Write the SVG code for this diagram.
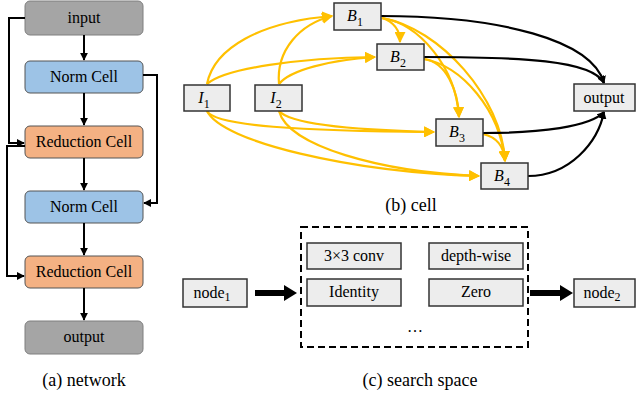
<svg xmlns="http://www.w3.org/2000/svg" width="636" height="393" viewBox="0 0 636 393">
<defs>
<marker id="ab" viewBox="0 0 10 10" refX="9" refY="5" markerWidth="4" markerHeight="4" orient="auto"><path d="M0,0 L10,5 L0,10 z" fill="#000"/></marker>
<marker id="ay" viewBox="0 0 10 10" refX="9" refY="5" markerWidth="5" markerHeight="5" orient="auto"><path d="M0,0 L10,5 L0,10 z" fill="#FFC000"/></marker>
<marker id="ak" viewBox="0 0 10 10" refX="9" refY="5" markerWidth="3.5" markerHeight="3.5" orient="auto"><path d="M0,0 L10,5 L0,10 z" fill="#000"/></marker>
</defs>
<style>
.lbl{font-size:16px;text-anchor:middle;fill:#000}
.cap{font-size:18px;text-anchor:middle;fill:#000}
.m{font-style:italic}
.gray{fill:#A5A5A5;stroke:#7F7F7F;stroke-width:1}
.blue{fill:#9DC3E6;stroke:#555;stroke-width:1}
.orng{fill:#F4B183;stroke:#555;stroke-width:1}
.cell{fill:#EDEDED;stroke:#333;stroke-width:1.5}
.bl{fill:none;stroke:#000;stroke-width:2}
.yl{fill:none;stroke:#FFC000;stroke-width:2.2;marker-end:url(#ay)}
.kl{fill:none;stroke:#000;stroke-width:2.2;marker-end:url(#ak)}
</style>

<!-- (a) network -->
<g id="net-input"><rect class="gray" x="25" y="1" width="118" height="34" rx="5"/><text class="lbl" font-family="Liberation Serif, DejaVu Serif, Times New Roman, serif" x="84" y="23">input</text></g>
<g id="net-norm1"><rect class="blue" x="25" y="61" width="118" height="32" rx="5"/><text class="lbl" font-family="Liberation Serif, DejaVu Serif, Times New Roman, serif" x="84" y="82">Norm Cell</text></g>
<g id="net-red1"><rect class="orng" x="25" y="126" width="118" height="32" rx="5"/><text class="lbl" font-family="Liberation Serif, DejaVu Serif, Times New Roman, serif" x="84" y="147">Reduction Cell</text></g>
<g id="net-norm2"><rect class="blue" x="25" y="191" width="118" height="32" rx="5"/><text class="lbl" font-family="Liberation Serif, DejaVu Serif, Times New Roman, serif" x="84" y="212">Norm Cell</text></g>
<g id="net-red2"><rect class="orng" x="25" y="256" width="118" height="32" rx="5"/><text class="lbl" font-family="Liberation Serif, DejaVu Serif, Times New Roman, serif" x="84" y="277">Reduction Cell</text></g>
<g id="net-output"><rect class="gray" x="25" y="321" width="118" height="33" rx="5"/><text class="lbl" font-family="Liberation Serif, DejaVu Serif, Times New Roman, serif" x="84" y="342">output</text></g>
<text class="cap" font-family="Liberation Serif, DejaVu Serif, Times New Roman, serif" x="84" y="386">(a) network</text>

<g id="net-connectors">
<path class="bl" d="M84,35 V60" marker-end="url(#ab)"/>
<path class="bl" d="M84,93 V125" marker-end="url(#ab)"/>
<path class="bl" d="M84,158 V190" marker-end="url(#ab)"/>
<path class="bl" d="M84,223 V255" marker-end="url(#ab)"/>
<path class="bl" d="M84,288 V320" marker-end="url(#ab)"/>
<path class="bl" d="M25,18 H9 V143 H24" marker-end="url(#ab)"/>
<path class="bl" d="M25,146 H7 V276 H24" marker-end="url(#ab)"/>
<path class="bl" d="M143,75 H157 V203 H144" marker-end="url(#ab)"/>
</g>

<!-- (b) cell -->
<g id="connectors-cell">
<path class="yl" d="M207,84 C214,48 260,22 332,16"/>
<path class="yl" d="M207,84 C225,68 300,58 375,57"/>
<path class="yl" d="M279,84 C276,50 300,24 332,16"/>
<path class="yl" d="M279,84 C290,70 330,60 375,57"/>
<path class="yl" d="M207,111 C215,126 300,131 434,132"/>
<path class="yl" d="M207,111 C222,142 350,172 479,176"/>
<path class="yl" d="M279,111 C290,124 350,130 434,132"/>
<path class="yl" d="M279,111 C288,146 380,172 479,176"/>
<path class="yl" d="M382,18 C394,22 400,30 400,42"/>
<path class="yl" d="M382,18 C420,24 456,68 459,117"/>
<path class="yl" d="M382,18 C440,28 502,98 505,161"/>
<path class="yl" d="M424,59 C446,62 458,90 459,117"/>
<path class="yl" d="M424,59 C462,66 500,110 505,161"/>
<path class="yl" d="M483,134 C496,137 504,146 505,161"/>
<path class="kl" d="M381,16 C500,16 592,40 604,83"/>
<path class="kl" d="M424,57 C520,57 592,60 604,83"/>
<path class="kl" d="M483,133 C540,133 590,127 604,112"/>
<path class="kl" d="M528,176 C570,176 598,142 604,112"/>
</g>
<g id="cell-I1"><rect class="cell" x="184" y="85" width="46" height="26"/><text class="lbl m" font-family="Liberation Serif, DejaVu Serif, Times New Roman, serif" x="204" y="103">I<tspan font-size="12" dy="5" font-style="normal">1</tspan></text></g>
<g id="cell-I2"><rect class="cell" x="255" y="85" width="47" height="26"/><text class="lbl m" font-family="Liberation Serif, DejaVu Serif, Times New Roman, serif" x="276" y="103">I<tspan font-size="12" dy="5" font-style="normal">2</tspan></text></g>
<g id="cell-B1"><rect class="cell" x="334" y="3" width="47" height="27"/><text class="lbl m" font-family="Liberation Serif, DejaVu Serif, Times New Roman, serif" x="355" y="21">B<tspan font-size="12" dy="5" font-style="normal">1</tspan></text></g>
<g id="cell-B2"><rect class="cell" x="377" y="44" width="47" height="26"/><text class="lbl m" font-family="Liberation Serif, DejaVu Serif, Times New Roman, serif" x="398" y="62">B<tspan font-size="12" dy="5" font-style="normal">2</tspan></text></g>
<g id="cell-B3"><rect class="cell" x="436" y="119" width="47" height="27"/><text class="lbl m" font-family="Liberation Serif, DejaVu Serif, Times New Roman, serif" x="457" y="137">B<tspan font-size="12" dy="5" font-style="normal">3</tspan></text></g>
<g id="cell-B4"><rect class="cell" x="481" y="163" width="47" height="26"/><text class="lbl m" font-family="Liberation Serif, DejaVu Serif, Times New Roman, serif" x="502" y="181">B<tspan font-size="12" dy="5" font-style="normal">4</tspan></text></g>
<g id="cell-output"><rect class="cell" x="574" y="84" width="61" height="27"/><text class="lbl" font-family="Liberation Serif, DejaVu Serif, Times New Roman, serif" x="604" y="103">output</text></g>
<text class="cap" font-family="Liberation Serif, DejaVu Serif, Times New Roman, serif" x="411" y="211">(b) cell</text>

<!-- (c) search space -->
<g id="ss-box"><rect x="301" y="227" width="227" height="120" fill="none" stroke="#000" stroke-width="2" stroke-dasharray="7,4"/></g>
<g id="ss-conv"><rect class="cell" x="307" y="243" width="94" height="26"/><text class="lbl" font-family="Liberation Serif, DejaVu Serif, Times New Roman, serif" x="354" y="261">3×3 conv</text></g>
<g id="ss-depth"><rect class="cell" x="429" y="243" width="94" height="26"/><text class="lbl" font-family="Liberation Serif, DejaVu Serif, Times New Roman, serif" x="476" y="261">depth-wise</text></g>
<g id="ss-identity"><rect class="cell" x="307" y="279" width="94" height="27"/><text class="lbl" font-family="Liberation Serif, DejaVu Serif, Times New Roman, serif" x="354" y="297">Identity</text></g>
<g id="ss-zero"><rect class="cell" x="429" y="279" width="94" height="27"/><text class="lbl" font-family="Liberation Serif, DejaVu Serif, Times New Roman, serif" x="476" y="297">Zero</text></g>
<text class="lbl" font-family="Liberation Serif, DejaVu Serif, Times New Roman, serif" x="415" y="332" font-size="20">…</text>
<g id="ss-node1"><rect class="cell" x="183" y="279" width="64" height="28"/><text class="lbl" font-family="Liberation Serif, DejaVu Serif, Times New Roman, serif" x="212" y="298">node<tspan font-size="12" dy="3">1</tspan></text></g>
<g id="ss-node2"><rect class="cell" x="574" y="279" width="61" height="28"/><text class="lbl" font-family="Liberation Serif, DejaVu Serif, Times New Roman, serif" x="602" y="298">node<tspan font-size="12" dy="3">2</tspan></text></g>
<g id="ss-connectors">
<path d="M255,290 H284 V285 L297,293 L284,301 V296 H255 z" fill="#000"/>
<path d="M530,290 H560 V285 L573,293 L560,301 V296 H530 z" fill="#000"/>
</g>
<text class="cap" font-family="Liberation Serif, DejaVu Serif, Times New Roman, serif" x="420" y="386">(c) search space</text>
</svg>
